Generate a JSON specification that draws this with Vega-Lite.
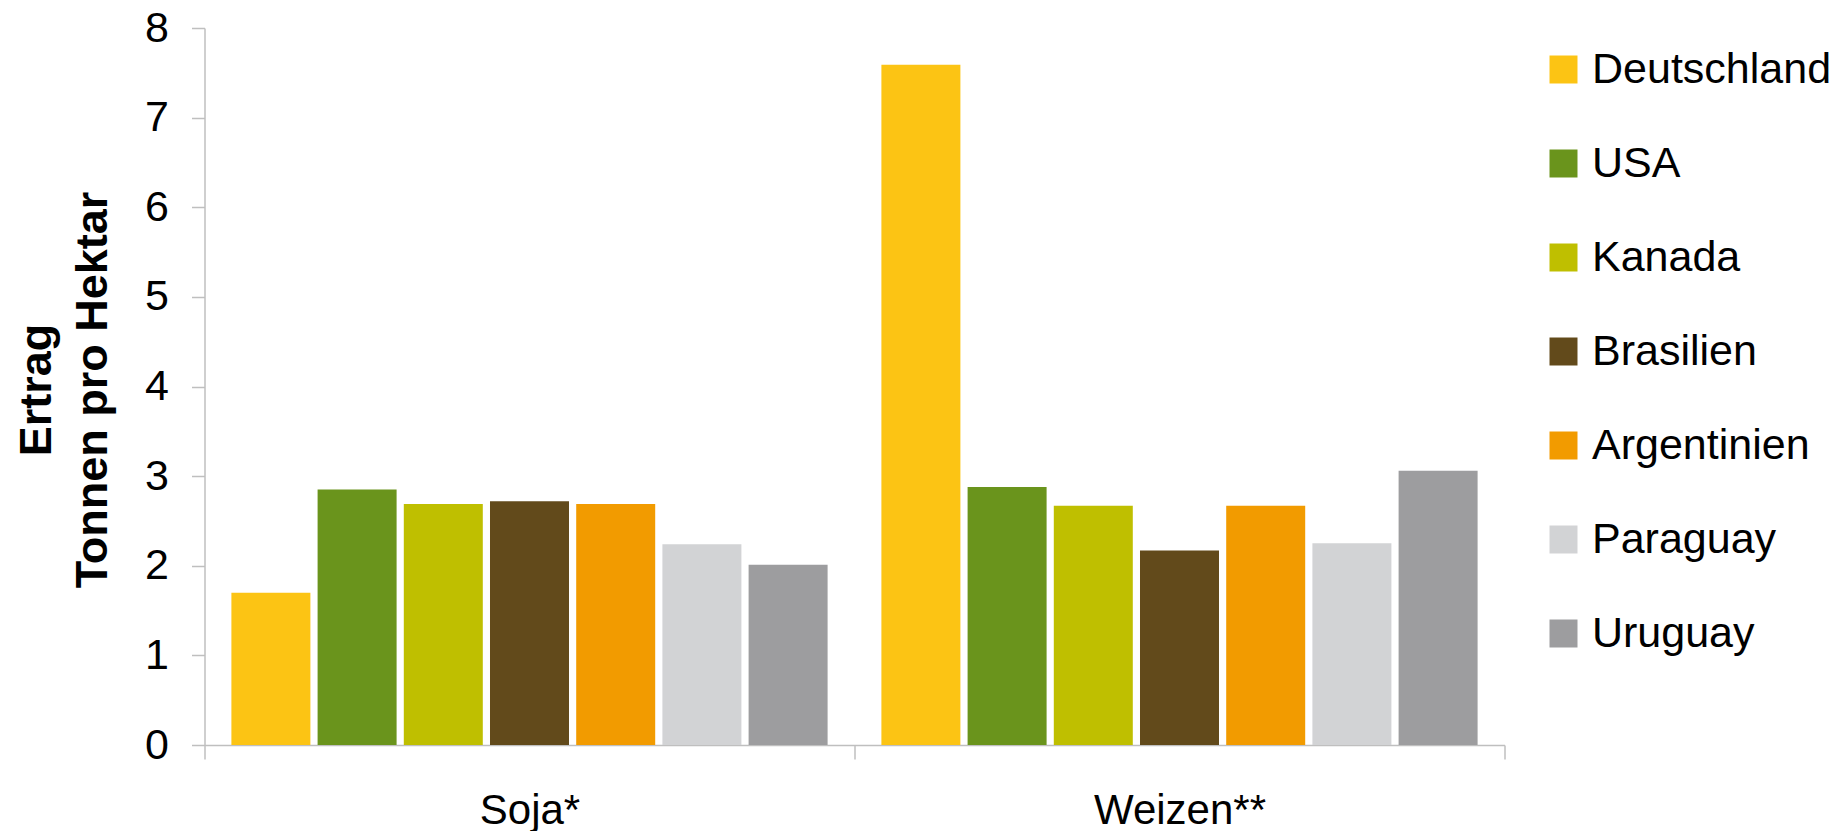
{
  "$schema": "https://vega.github.io/schema/vega-lite/v6.json",
  "width": 1300,
  "height": 717,
  "autosize": {"type": "none"},
  "padding": {"left": 204.5, "top": 28, "right": 338.5, "bottom": 86},
  "background": "#ffffff",
  "config": {
    "view": {"stroke": null},
    "font": "Liberation Sans",
    "axis": {"grid": false}
  },
  "data": {
    "values": [
      {"Kultur": "Soja*", "Land": "Deutschland", "Ertrag": 1.70},
      {"Kultur": "Soja*", "Land": "USA", "Ertrag": 2.85},
      {"Kultur": "Soja*", "Land": "Kanada", "Ertrag": 2.69},
      {"Kultur": "Soja*", "Land": "Brasilien", "Ertrag": 2.72},
      {"Kultur": "Soja*", "Land": "Argentinien", "Ertrag": 2.69},
      {"Kultur": "Soja*", "Land": "Paraguay", "Ertrag": 2.24},
      {"Kultur": "Soja*", "Land": "Uruguay", "Ertrag": 2.01},
      {"Kultur": "Weizen**", "Land": "Deutschland", "Ertrag": 7.59},
      {"Kultur": "Weizen**", "Land": "USA", "Ertrag": 2.88},
      {"Kultur": "Weizen**", "Land": "Kanada", "Ertrag": 2.67},
      {"Kultur": "Weizen**", "Land": "Brasilien", "Ertrag": 2.17},
      {"Kultur": "Weizen**", "Land": "Argentinien", "Ertrag": 2.67},
      {"Kultur": "Weizen**", "Land": "Paraguay", "Ertrag": 2.25},
      {"Kultur": "Weizen**", "Land": "Uruguay", "Ertrag": 3.06}
    ]
  },
  "mark": {"type": "bar"},
  "encoding": {
    "x": {
      "field": "Kultur",
      "type": "nominal",
      "sort": ["Soja*", "Weizen**"],
      "scale": {"paddingInner": 0, "paddingOuter": 0},
      "axis": {
        "title": null,
        "labelAngle": 0,
        "labelFont": "Liberation Sans",
        "labelFontSize": 42,
        "labelColor": "#000000",
        "labelBaseline": "alphabetic",
        "labelPadding": 64,
        "tickBand": "extent",
        "tickSize": 14,
        "tickColor": "#BFBFBF",
        "tickWidth": 1.5,
        "domainColor": "#BFBFBF",
        "domainWidth": 1.5
      }
    },
    "xOffset": {
      "field": "Land",
      "type": "nominal",
      "sort": ["Deutschland", "USA", "Kanada", "Brasilien", "Argentinien", "Paraguay", "Uruguay"],
      "scale": {"paddingInner": 0.0835, "paddingOuter": 0.312}
    },
    "y": {
      "field": "Ertrag",
      "type": "quantitative",
      "scale": {"domain": [0, 8], "nice": false},
      "axis": {
        "values": [0, 1, 2, 3, 4, 5, 6, 7, 8],
        "title": ["Ertrag", "Tonnen pro Hektar"],
        "titleFont": "Liberation Sans",
        "titleFontSize": 45,
        "titleFontWeight": "bold",
        "titleColor": "#000000",
        "titleLineHeight": 56,
        "titleAngle": -90,
        "titleAlign": "center",
        "titleBaseline": "middle",
        "titleX": -168.5,
        "titleY": 361.5,
        "labelFont": "Liberation Sans",
        "labelFontSize": 43,
        "labelColor": "#000000",
        "labelPadding": 23,
        "tickSize": 13,
        "tickColor": "#BFBFBF",
        "tickWidth": 1.5,
        "domainColor": "#BFBFBF",
        "domainWidth": 1.5
      }
    },
    "color": {
      "field": "Land",
      "type": "nominal",
      "sort": ["Deutschland", "USA", "Kanada", "Brasilien", "Argentinien", "Paraguay", "Uruguay"],
      "scale": {
        "domain": ["Deutschland", "USA", "Kanada", "Brasilien", "Argentinien", "Paraguay", "Uruguay"],
        "range": ["#FCC414", "#6A941C", "#BFBF00", "#624A1B", "#F29B00", "#D2D3D5", "#9D9D9F"]
      },
      "legend": {
        "title": null,
        "orient": "none",
        "legendX": 1337.5,
        "legendY": 20,
        "padding": 0,
        "symbolType": "square",
        "symbolSize": 784,
        "symbolStrokeWidth": 0,
        "symbolOpacity": 1,
        "labelFont": "Liberation Sans",
        "labelFontSize": 43,
        "labelColor": "#000000",
        "labelOffset": 7,
        "labelLimit": 400,
        "rowPadding": 50
      }
    }
  }
}
